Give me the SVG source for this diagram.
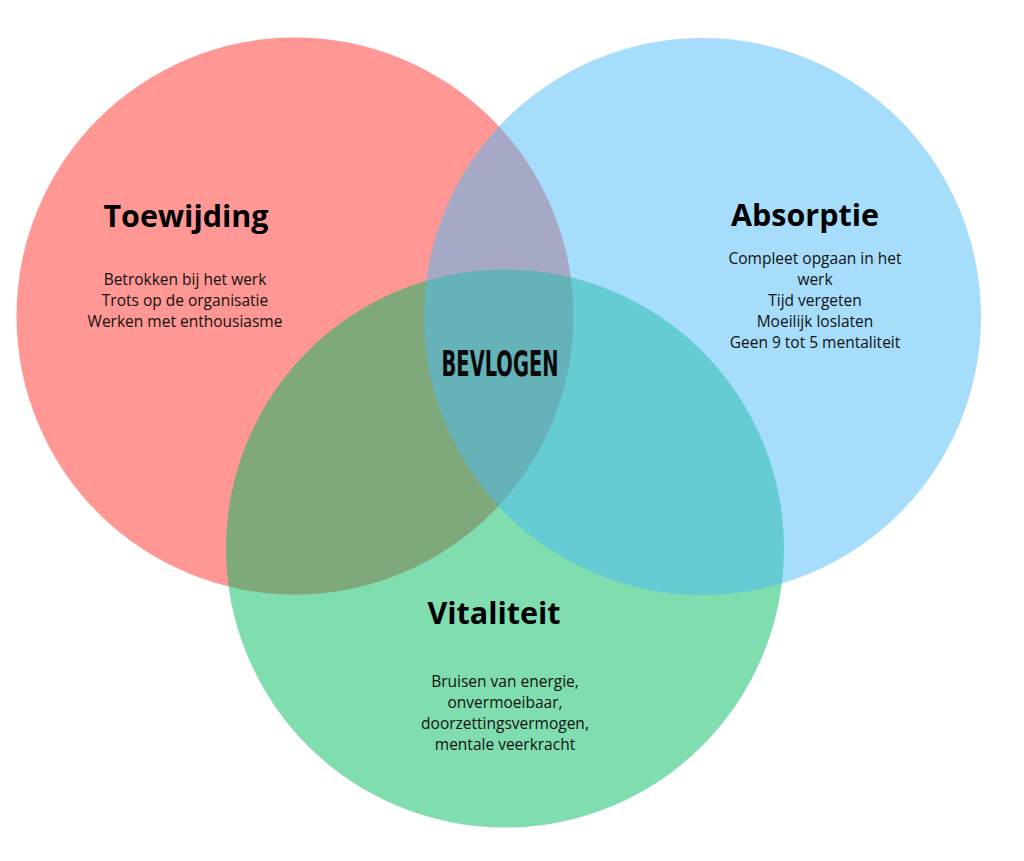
<svg xmlns="http://www.w3.org/2000/svg" width="1024" height="861" viewBox="0 0 1024 861">
<style>
.title{font-family:"Open Sans","Liberation Sans",sans-serif;font-weight:bold;font-size:30.5px;fill:#000;text-anchor:middle}
.body{font-family:"Open Sans","Liberation Sans",sans-serif;font-size:15.5px;fill:#111;text-anchor:middle}
.center{font-family:"DejaVu Sans Condensed","Liberation Sans Narrow",sans-serif;font-weight:bold;font-size:35px;fill:#0a0a0a;text-anchor:middle}
</style>
<rect width="1024" height="861" fill="#fff"/>
<g id="toewijding">
<circle cx="295" cy="316" r="278.5" fill="#FF2F29" fill-opacity="0.5"/>
</g>
<g id="vitaliteit">
<circle cx="505" cy="548.5" r="279" fill="#00BB5F" fill-opacity="0.5"/>
</g>
<g id="absorptie">
<circle cx="702.5" cy="316.5" r="278.5" fill="#4DBBF8" fill-opacity="0.5"/>
</g>
<g id="labels-toewijding">
<text class="title" x="186" y="227">Toewijding</text>
<text class="body" x="185" y="285">Betrokken bij het werk</text>
<text class="body" x="185" y="306">Trots op de organisatie</text>
<text class="body" x="185" y="327">Werken met enthousiasme</text>
</g>
<g id="labels-absorptie">
<text class="title" x="805" y="226">Absorptie</text>
<text class="body" x="815" y="264">Compleet opgaan in het</text>
<text class="body" x="815" y="285">werk</text>
<text class="body" x="815" y="306">Tijd vergeten</text>
<text class="body" x="815" y="327">Moeilijk loslaten</text>
<text class="body" x="815" y="348">Geen 9 tot 5 mentaliteit</text>
</g>
<g id="labels-vitaliteit">
<text class="title" x="494" y="624">Vitaliteit</text>
<text class="body" x="505" y="687">Bruisen van energie,</text>
<text class="body" x="505" y="708">onvermoeibaar,</text>
<text class="body" x="505" y="729">doorzettingsvermogen,</text>
<text class="body" x="505" y="750">mentale veerkracht</text>
</g>
<g id="bevlogen">
<text class="center" x="500" y="376" textLength="117" lengthAdjust="spacingAndGlyphs">BEVLOGEN</text>
</g>
<g id="connectors"/>
</svg>
